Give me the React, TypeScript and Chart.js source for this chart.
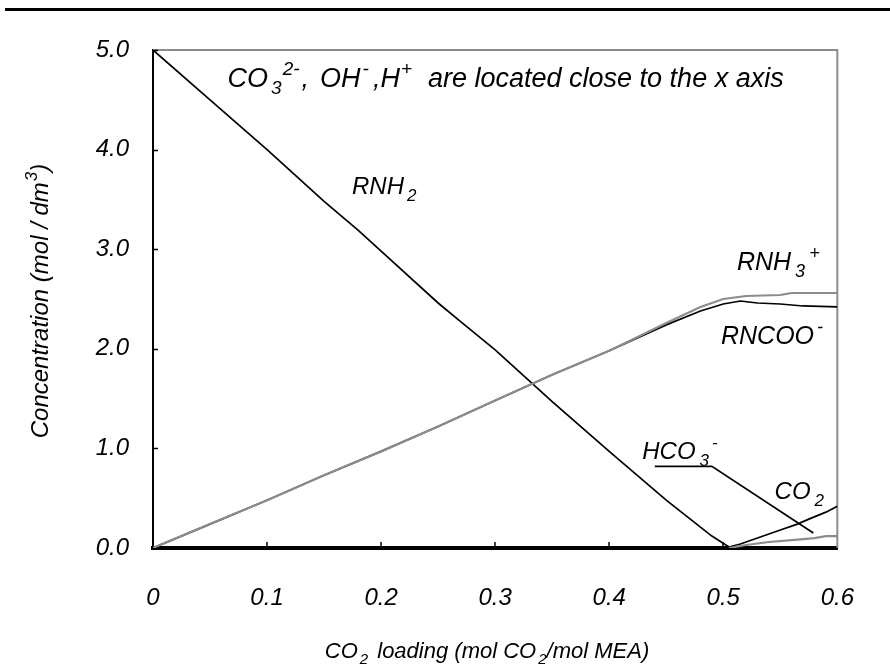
import React, { useEffect, useRef } from 'react';
import { Chart, registerables } from 'chart.js';
Chart.register(...registerables);

// ---- data ----
const rnh2X = [0, 0.05, 0.1, 0.15, 0.18, 0.2, 0.25, 0.27, 0.3, 0.35, 0.4, 0.45, 0.47, 0.49, 0.505, 0.55, 0.6];
const rnh2Y = [5.0, 4.5, 4.0, 3.48, 3.19, 2.98, 2.46, 2.27, 1.99, 1.47, 0.97, 0.48, 0.3, 0.12, 0.01, 0.0, 0.0];

const rncooX = [0, 0.05, 0.1, 0.15, 0.2, 0.25, 0.3, 0.35, 0.4, 0.45, 0.48, 0.5, 0.515, 0.53, 0.55, 0.57, 0.6];
const rncooY = [0, 0.24, 0.48, 0.73, 0.97, 1.22, 1.48, 1.74, 1.98, 2.24, 2.38, 2.45, 2.48, 2.46, 2.45, 2.43, 2.42];

const rnh3X = [0, 0.05, 0.1, 0.15, 0.2, 0.25, 0.3, 0.35, 0.4, 0.42, 0.45, 0.48, 0.5, 0.52, 0.55, 0.56, 0.6];
const rnh3Y = [0, 0.24, 0.48, 0.73, 0.97, 1.22, 1.48, 1.74, 1.98, 2.09, 2.26, 2.42, 2.5, 2.53, 2.54, 2.56, 2.56];

const hco3X = [0.505, 0.52, 0.54, 0.56, 0.58, 0.59, 0.6];
const hco3Y = [0.0, 0.03, 0.06, 0.08, 0.1, 0.12, 0.12];

const co2X = [0.505, 0.515, 0.53, 0.55, 0.565, 0.575, 0.59, 0.6];
const co2Y = [0.01, 0.04, 0.1, 0.18, 0.24, 0.29, 0.36, 0.42];

const leaderX = [0.44, 0.49, 0.579];
const leaderY = [0.82, 0.82, 0.15];

const xMin = 0, xMax = 0.6, xStep = 0.1;
const yMin = 0, yMax = 5, yStep = 1;

const FONT = '"Liberation Sans", Arial, sans-serif';
const GRAY = '#8c8c8c';

type Seg = { t: string; sub?: boolean; sup?: boolean; gap?: number };

function pts(xs: number[], ys: number[]) {
  return xs.map((x, i) => ({ x, y: ys[i] }));
}

function fontFor(s: Seg, size: number) {
  const sz = s.sub || s.sup ? Math.round(size * 0.7) : size;
  return `italic ${sz}px ${FONT}`;
}

function richWidth(ctx: CanvasRenderingContext2D, segs: Seg[], size: number) {
  let w = 0;
  for (const s of segs) {
    ctx.font = fontFor(s, size);
    w += ctx.measureText(s.t).width + (s.gap || 0);
  }
  return w;
}

function drawRich(ctx: CanvasRenderingContext2D, segs: Seg[], x: number, y: number, size: number, align: 'left' | 'center' = 'left') {
  const w = richWidth(ctx, segs, size);
  let cx = align === 'center' ? x - w / 2 : x;
  ctx.textBaseline = 'alphabetic';
  ctx.textAlign = 'left';
  ctx.fillStyle = '#000';
  for (const s of segs) {
    ctx.font = fontFor(s, size);
    cx += s.gap || 0;
    const dy = s.sub ? size * 0.28 : s.sup ? -size * 0.45 : 0;
    ctx.fillText(s.t, cx, y + dy);
    cx += ctx.measureText(s.t).width;
  }
}

const labels: { segs: Seg[]; x: number; y: number; size: number }[] = [
  {
    segs: [
      { t: 'CO' }, { t: '3', sub: true, gap: 3 }, { t: '2-', sup: true, gap: 1 }, { t: ',', gap: 2 },
      { t: 'OH', gap: 11 }, { t: '-', sup: true, gap: 2 }, { t: ',H', gap: 4 }, { t: '+', sup: true, gap: 1 },
      { t: 'are located close to the x axis', gap: 16 },
    ],
    x: 0.0654, y: 4.63, size: 27,
  },
  { segs: [{ t: 'RNH' }, { t: '2', sub: true, gap: 3 }], x: 0.1745, y: 3.55, size: 24 },
  { segs: [{ t: 'RNH' }, { t: '3', sub: true, gap: 4 }, { t: '+', sup: true, gap: 4 }], x: 0.512, y: 2.79, size: 25 },
  { segs: [{ t: 'RNCOO' }, { t: '-', sup: true, gap: 3 }], x: 0.498, y: 2.05, size: 25 },
  { segs: [{ t: 'HCO' }, { t: '3', sub: true, gap: 4 }, { t: '-', sup: true, gap: 3 }], x: 0.429, y: 0.894, size: 24 },
  { segs: [{ t: 'CO' }, { t: '2', sub: true, gap: 4 }], x: 0.545, y: 0.49, size: 24 },
];

const xTitle: Seg[] = [{ t: 'CO' }, { t: '2', sub: true, gap: 2 }, { t: ' loading (mol CO', gap: 3 }, { t: '2', sub: true, gap: 2 }, { t: '/mol MEA)' }];
const yTitle: Seg[] = [{ t: 'Concentration (mol / dm' }, { t: '3', sup: true, gap: 1 }, { t: ')' }];

const decor = {
  id: 'decor',
  beforeDatasetsDraw(chart: any) {
    const { ctx, chartArea: a } = chart;
    ctx.save();
    ctx.strokeStyle = GRAY;
    ctx.lineWidth = 2;
    ctx.beginPath();
    ctx.moveTo(a.left, a.top);
    ctx.lineTo(a.right, a.top);
    ctx.lineTo(a.right, a.bottom);
    ctx.stroke();
    ctx.restore();
  },
  afterDraw(chart: any) {
    const { ctx, chartArea: a, scales } = chart;
    const xs = scales.x, ys = scales.y;
    ctx.save();
    ctx.fillStyle = '#000';
    ctx.fillRect(5, 8, 885, 3);
    ctx.strokeStyle = '#000';
    ctx.lineWidth = 1.5;
    ctx.beginPath();
    for (let v = yMin + yStep; v < yMax + 1e-9; v += yStep) {
      const py = Math.round(ys.getPixelForValue(v)) + 0.5;
      ctx.moveTo(a.left, py);
      ctx.lineTo(a.left + 5, py);
    }
    for (let v = xMin + xStep; v < xMax - 1e-9; v += xStep) {
      const px = Math.round(xs.getPixelForValue(v));
      ctx.moveTo(px, a.bottom);
      ctx.lineTo(px, a.bottom - 6);
    }
    ctx.stroke();
    for (const l of labels) {
      drawRich(ctx, l.segs, xs.getPixelForValue(l.x), ys.getPixelForValue(l.y), l.size);
    }
    drawRich(ctx, xTitle, 487, 658, 22, 'center');
    ctx.translate(48, 301);
    ctx.rotate(-Math.PI / 2);
    drawRich(ctx, yTitle, 0, 0, 24, 'center');
    ctx.restore();
  },
};

export default function App() {
  const ref = useRef<HTMLCanvasElement>(null);
  useEffect(() => {
    document.body.style.margin = '0';
    const canvas = ref.current!;
    const line = (xs: number[], ys: number[], color: string, width: number) => ({
      data: pts(xs, ys),
      borderColor: color,
      borderWidth: width,
      pointRadius: 0,
      tension: 0,
      fill: false,
    });
    const chart = new Chart(canvas, {
      type: 'line',
      data: {
        datasets: [
          line(rnh3X, rnh3Y, GRAY, 2.2),
          line(hco3X, hco3Y, GRAY, 2.2),
          line(rncooX, rncooY, '#000', 1.7),
          line(rnh2X, rnh2Y, '#000', 1.7),
          line(co2X, co2Y, '#000', 1.7),
          line(leaderX, leaderY, '#000', 1.7),
        ] as any,
      },
      options: {
        responsive: false,
        animation: false,
        parsing: false,
        events: [],
        layout: { padding: { left: 0, top: 50, right: 49, bottom: 0 } },
        plugins: { legend: { display: false }, tooltip: { enabled: false }, title: { display: false } },
        scales: {
          x: {
            type: 'linear',
            min: xMin,
            max: xMax,
            afterFit: (s: any) => { s.height = 120; },
            grid: { display: true, drawOnChartArea: false, drawTicks: false },
            border: { display: true, color: '#000', width: 4 },
            ticks: {
              stepSize: xStep,
              padding: 36,
              color: '#000',
              font: { family: FONT, size: 24, style: 'italic' },
              callback: (v: any) => { const n = Math.round(Number(v) * 10) / 10; return n === 0 ? '0' : n.toFixed(1); },
            },
          },
          y: {
            type: 'linear',
            min: yMin,
            max: yMax,
            afterFit: (s: any) => { s.width = 153; },
            grid: { display: true, drawOnChartArea: false, drawTicks: false },
            border: { display: true, color: '#000', width: 2 },
            ticks: {
              stepSize: yStep,
              padding: 24,
              color: '#000',
              font: { family: FONT, size: 24, style: 'italic' },
              callback: (v: any) => Number(v).toFixed(1),
            },
          },
        },
      },
      plugins: [decor],
    });
    return () => chart.destroy();
  }, []);
  return (
    <div style={{ position: 'absolute', left: 0, top: 0 }}>
      <canvas ref={ref} width={890} height={668} style={{ width: 890, height: 668, display: 'block' }} />
    </div>
  );
}
